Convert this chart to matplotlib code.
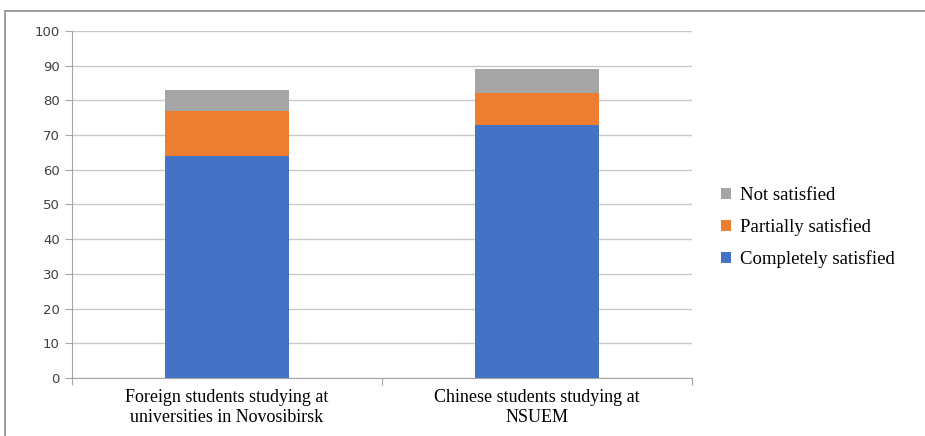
import matplotlib.pyplot as plt
from matplotlib.patches import Rectangle
import numpy as np

categories = ["Foreign students studying at\nuniversities in Novosibirsk",
              "Chinese students studying at\nNSUEM"]
completely = [64, 73]
partially = [13, 9]
not_satisfied = [6, 7]

fig = plt.figure(figsize=(9.25, 4.36), dpi=100)
ax = fig.add_axes([0.078, 0.133, 0.670, 0.796])

x = np.arange(len(categories))
w = 0.4
b1 = ax.bar(x, completely, w, color="#4472C4", label="Completely satisfied", zorder=3)
b2 = ax.bar(x, partially, w, bottom=completely, color="#ED7D31",
            label="Partially satisfied", zorder=3)
bottom2 = np.array(completely) + np.array(partially)
b3 = ax.bar(x, not_satisfied, w, bottom=bottom2, color="#A5A5A5",
            label="Not satisfied", zorder=3)

ax.set_xlim(-0.5, 1.5)
ax.set_ylim(0, 100)
ax.set_yticks(range(0, 101, 10))
ax.set_xticks([-0.5, 0.5, 1.5], minor=False)
ax.set_xticklabels([])
ax.set_xticks(x, minor=True)
ax.set_xticklabels(categories, minor=True, family="Liberation Serif", fontsize=13)
ax.tick_params(axis="x", which="minor", length=0, pad=8)
ax.tick_params(axis="x", which="major", length=5, color="#A6A6A6")
ax.tick_params(axis="y", length=5, color="#A6A6A6", labelsize=9.5,
               labelcolor="#404040", pad=4)

ax.grid(axis="y", color="#C8C8C8", linewidth=1, zorder=0)
for s in ["top", "right"]:
    ax.spines[s].set_visible(False)
ax.spines["left"].set_color("#A6A6A6")
ax.spines["bottom"].set_color("#A6A6A6")

# legend sits a bit below the middle of the plot, to the right
ax.legend([b3, b2, b1], ["Not satisfied", "Partially satisfied", "Completely satisfied"],
          loc="center left", bbox_to_anchor=(1.016, 0.434), frameon=False,
          prop={"family": "Liberation Serif", "size": 13.5},
          handlelength=0.55, handleheight=0.55, handletextpad=0.5,
          labelspacing=0.75, borderaxespad=0.6)

fig.patches.append(Rectangle((0.005, -0.01), 1.1, 0.985, transform=fig.transFigure,
                             fill=False, edgecolor="#8C8C8C", linewidth=1.2))

fig.savefig("out.png", dpi=100)
